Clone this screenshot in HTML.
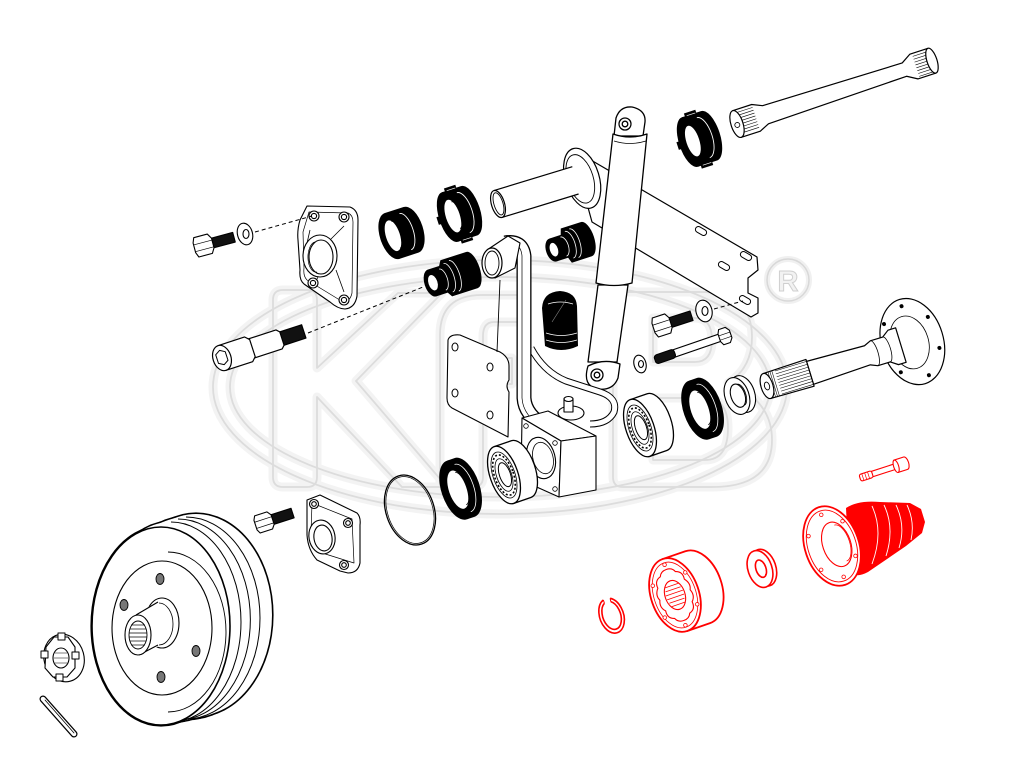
<!DOCTYPE html>
<html><head><meta charset="utf-8">
<style>html,body{margin:0;padding:0;background:#fff}svg{display:block}</style>
</head>
<body>
<svg width="1024" height="768" viewBox="0 0 1024 768" xmlns="http://www.w3.org/2000/svg">
<defs>
 <g id="wm">
  <ellipse cx="500" cy="387" rx="287" ry="127"/>
  <ellipse cx="500" cy="387" rx="270" ry="110"/>
  <path d="M273,300 Q273,290 283,290 L307,290 Q317,290 317,300 L317,368 L398,293 L442,293 L356,381 L447,487 L402,487 L317,397 L317,477 Q317,487 307,487 L283,487 Q273,487 273,477 Z"/>
  <path d="M440,487 L440,335 Q440,295 482,295 L522,295 L522,322 L494,322 Q483,322 483,336 L483,358 L512,358 L512,384 L483,384 L483,477 Q483,487 473,487 Z"/>
  <path d="M613,302 Q613,292 623,292 L700,292 Q752,292 752,337 Q752,368 728,383 Q772,400 772,440 Q772,487 712,487 L623,487 Q613,487 613,477 Z"/>
  <path d="M653,318 L695,318 Q712,318 712,340 Q712,362 695,362 L653,362 Z"/>
  <path d="M653,398 L705,398 Q728,398 728,428 Q728,460 705,460 L653,460 Z"/>
 </g>
 <g id="drum">
  <ellipse cx="196" cy="615" rx="76" ry="101"/>
  <ellipse cx="191" cy="617" rx="75" ry="101"/>
  <ellipse cx="186" cy="618" rx="74" ry="101"/>
  <ellipse cx="181" cy="619" rx="73" ry="100"/>
  <ellipse cx="176" cy="621" rx="72" ry="100"/>
  <ellipse cx="171" cy="622" rx="71" ry="100"/>
  <ellipse cx="166" cy="624" rx="70" ry="99"/>
  <ellipse cx="161" cy="626" rx="69" ry="99"/>
 </g>
</defs>
<rect width="1024" height="768" fill="#fff"/>

<!-- watermark -->
<g fill="none" stroke-linejoin="round">
 <use href="#wm" stroke="#f3f3f3" stroke-width="9"/>
 <use href="#wm" stroke="#dcdcdc" stroke-width="1.8"/>
</g>
<circle cx="788" cy="280" r="21" fill="none" stroke="#f0f0f0" stroke-width="6"/>
<circle cx="788" cy="280" r="21" fill="none" stroke="#d8d8d8" stroke-width="1.5"/>
<text x="788" y="291" font-family="Liberation Sans, sans-serif" font-size="29" font-weight="bold" text-anchor="middle" fill="#f2f2f2" stroke="#cfcfcf" stroke-width="1">R</text>

<!-- ===== spring plate / bracket ===== -->
<g stroke="#000" stroke-width="1.2" fill="#fff" stroke-linejoin="round">
 <path d="M572,149 L757,257 L758,270 L748,278 L748,293 L758,298 L758,313 L751,317 L592,222 Z"/>
 <g fill="#fff" stroke-width="1">
  <rect x="-6" y="-3" width="12" height="6" rx="3" transform="translate(701,231) rotate(30)"/>
  <rect x="-6" y="-3" width="12" height="6" rx="3" transform="translate(746,256) rotate(30)"/>
  <rect x="-6" y="-3" width="12" height="6" rx="3" transform="translate(724,266) rotate(30)"/>
  <rect x="-6" y="-3" width="12" height="6" rx="3" transform="translate(745,300) rotate(30)"/>
 </g>
</g>

<!-- pivot tube + flange -->
<g transform="translate(498,204) rotate(-17)" stroke="#000" stroke-width="1.2" fill="#fff">
 <ellipse cx="88" cy="0" rx="17" ry="31"/>
 <ellipse cx="86" cy="0" rx="13" ry="25" fill="none" stroke-width="0.9"/>
 <rect x="0" y="-14" width="82" height="28" stroke="none"/>
 <line x1="0" y1="-14" x2="82" y2="-14"/>
 <line x1="0" y1="14" x2="80" y2="14"/>
 <ellipse cx="0" cy="0" rx="6.5" ry="14"/>
 <ellipse cx="0.5" cy="0" rx="4.5" ry="11.5" fill="none" stroke-width="0.9"/>
</g>

<!-- torsion bar -->
<g transform="translate(737,124) rotate(-18)" stroke="#000" stroke-width="1.2" fill="#fff" stroke-linejoin="round">
 <path d="M0,-14 L20,-14 L30,-9.5 L176,-7 L186,-13 L205,-13 L205,13 L186,13 L176,7 L30,9.5 L20,14 L0,14 Z"/>
 <g stroke-width="0.6">
  <line x1="3" y1="-11" x2="20" y2="-11"/><line x1="4" y1="-8" x2="20" y2="-8"/><line x1="5" y1="-5" x2="20" y2="-5"/><line x1="5" y1="-2" x2="20" y2="-2"/><line x1="5" y1="1" x2="20" y2="1"/><line x1="5" y1="4" x2="20" y2="4"/><line x1="4" y1="7" x2="20" y2="7"/><line x1="3" y1="10" x2="20" y2="10"/>
  <line x1="188" y1="-10" x2="204" y2="-10"/><line x1="188" y1="-7" x2="204" y2="-7"/><line x1="188" y1="-4" x2="204" y2="-4"/><line x1="188" y1="-1" x2="204" y2="-1"/><line x1="188" y1="2" x2="204" y2="2"/><line x1="188" y1="5" x2="204" y2="5"/><line x1="188" y1="8" x2="204" y2="8"/><line x1="188" y1="11" x2="204" y2="11"/>
 </g>
 <ellipse cx="0" cy="0" rx="6" ry="14"/>
 <circle cx="0" cy="1" r="2.5" fill="none" stroke-width="0.8"/>
 <ellipse cx="205" cy="0" rx="5" ry="13"/>
</g>

<!-- top-right black notched ring -->
<g transform="translate(690,142) rotate(-18)">
 <path d="M0,-26 L20,-26 A11,26 0 0 1 20,26 L0,26 Z" fill="#000"/>
 <ellipse rx="11" ry="26" fill="#000"/>
 <rect x="3" y="-29" width="12" height="4" fill="#000"/>
 <rect x="3" y="25" width="12" height="4" fill="#000"/>
 <rect x="-13" y="-4" width="4" height="8" fill="#000"/>
 <ellipse cx="3" cy="0" rx="6.5" ry="16" fill="#fff"/>
 <path d="M14,-21 A9,21 0 0 1 14,21" stroke="#fff" stroke-width="0.9" fill="none"/>
 <path d="M5,-26 L14,-26" stroke="#fff" stroke-width="0.7"/>
 <path d="M5,26 L14,26" stroke="#fff" stroke-width="0.7"/>
</g>

<!-- ===== shock absorber ===== -->
<g stroke="#000" stroke-width="1.3" fill="#fff" stroke-linejoin="round">
 <path d="M614,136 L616,118 Q620,106 632,107 Q646,110 645,122 L643,136 Z"/>
 <circle cx="625" cy="124" r="6"/>
 <circle cx="625" cy="124" r="2.8"/>
 <path d="M588,362 L598,285 L628,285 L617,362 Z"/>
 <path d="M596,283 L613,134 Q630,140 647,134 L632,283 Q614,288 596,283 Z"/>
 <path d="M614,141 Q630,146 646,141" fill="none" stroke-width="0.8"/>
 <path d="M588,366 Q582,386 598,389 Q613,391 618,378 L620,364 Q604,358 588,366 Z"/>
 <circle cx="597" cy="375" r="6"/>
 <circle cx="597" cy="375" r="2.8"/>
</g>

<!-- ===== trailing arm assembly ===== -->
<g fill="none" stroke-linejoin="round" stroke-linecap="butt">
 <path d="M448,340 Q450,334 460,335 L500,352 Q509,357 509,366 L509,380 Q505,386 509,392 L508,437 L452,408 Q447,405 447,398 Z" fill="#fff" stroke="#000" stroke-width="1.1"/>
 <g fill="#fff" stroke="#000" stroke-width="1">
  <ellipse cx="455" cy="347" rx="3" ry="4"/><ellipse cx="490" cy="367" rx="3" ry="4"/>
  <ellipse cx="455" cy="393" rx="3" ry="4"/><ellipse cx="490" cy="415" rx="3" ry="4"/>
 </g>
 <path d="M531,348 Q544,372 566,381 L600,392 Q618,398 614,412 Q608,424 590,424" stroke="#000" stroke-width="7"/>
 <path d="M531,348 Q544,372 566,381 L600,392 Q618,398 614,412 Q608,424 590,424" stroke="#fff" stroke-width="5"/>
 <path d="M505,243 Q522,240 524,256 L524,398 Q525,415 545,426 L590,447" stroke="#000" stroke-width="15"/>
 <path d="M505,243 Q522,240 524,256 L524,398 Q525,415 545,426 L590,447" stroke="#fff" stroke-width="12.4"/>
 <path d="M507,243 Q521,242 522,256 L522,398 Q523,416 544,428 L588,448" stroke="#000" stroke-width="0.7"/>
 <path d="M500,280 L497,352" stroke="#000" stroke-width="0.9"/>
 <path d="M487,250 L508,236 L520,243 L515,268 L495,278 Z" fill="#fff" stroke="#000" stroke-width="1.1"/>
 <ellipse cx="492" cy="263" rx="10" ry="15" fill="#fff" stroke="#000" stroke-width="1.2"/>
 <ellipse cx="492" cy="263" rx="7" ry="12" stroke="#000" stroke-width="0.9"/>
</g>

<!-- housing block -->
<g stroke="#000" stroke-width="1.1" fill="#fff" stroke-linejoin="round">
 <ellipse cx="571" cy="413" rx="13" ry="7"/>
 <rect x="564" y="399" width="9" height="13"/>
 <ellipse cx="568.5" cy="399" rx="4.5" ry="2.5"/>
 <path d="M522,418 L548,411 L596,436 L561,441 Z"/>
 <path d="M522,418 L561,441 L559,497 L521,480 Z"/>
 <path d="M561,441 L596,436 L596,490 L559,497 Z"/>
 <ellipse cx="541" cy="458" rx="14" ry="21" transform="rotate(-15 541 458)"/>
 <ellipse cx="543" cy="458" rx="10" ry="16" transform="rotate(-15 543 458)" fill="none" stroke-width="0.8"/>
 <g stroke-width="0.8"><circle cx="526" cy="426" r="2.3"/><circle cx="555" cy="443" r="2.3"/><circle cx="525" cy="474" r="2.3"/><circle cx="555" cy="489" r="2.3"/></g>
</g>

<!-- bump stop -->
<g>
 <path d="M545,346 L542,308 Q543,292 560,291 Q576,292 577,306 L578,346 Q561,354 545,346 Z" fill="#000"/>
 <path d="M548,304 Q560,300 573,304" stroke="#fff" stroke-width="0.8" fill="none"/>
 <path d="M546,333 Q561,338 577,333" stroke="#fff" stroke-width="0.8" fill="none"/>
 <path d="M546,340 Q561,345 577,340" stroke="#fff" stroke-width="0.8" fill="none"/>
 <path d="M552,322 L566,300" stroke="#888" stroke-width="0.6"/>
</g>

<!-- black ribbed bushing (right of arm) -->
<g transform="translate(553,250) rotate(-18)">
 <path d="M0,-12 L12,-12 L14,-18 L35,-18 A8,18 0 0 1 35,18 L14,18 L12,12 L0,12 Z" fill="#000"/>
 <ellipse rx="7" ry="12" fill="#000"/>
 <ellipse cx="1" rx="4" ry="7" fill="#fff"/>
 <g stroke="#fff" stroke-width="0.8" fill="none">
  <path d="M11,-10 A5,10 0 0 1 11,10"/><path d="M17,-14 A6,14 0 0 1 17,14"/><path d="M22,-15 A6,15 0 0 1 22,15"/>
 </g>
</g>
<!-- black ribbed bushing (lower) -->
<g transform="translate(432,283) rotate(-18)">
 <path d="M0,-14 L12,-14 L15,-19 L42,-19 A8,19 0 0 1 42,19 L15,19 L12,14 L0,14 Z" fill="#000"/>
 <ellipse rx="7.5" ry="14" fill="#000"/>
 <ellipse cx="1" rx="4.5" ry="8" fill="#fff"/>
 <g stroke="#fff" stroke-width="0.8" fill="none">
  <path d="M11,-11 A5,11 0 0 1 11,11"/><path d="M17,-15 A6,15 0 0 1 17,15"/><path d="M23,-16 A6,16 0 0 1 23,16"/>
 </g>
</g>
<!-- black ring 1 -->
<g transform="translate(392,236) rotate(-18)">
 <path d="M0,-24 L20,-24 A12,24 0 0 1 20,24 L0,24 Z" fill="#000"/>
 <ellipse rx="12" ry="24" fill="#000"/>
 <ellipse cx="1" rx="7" ry="16" fill="#fff"/>
 <path d="M4,-14 A6,14 0 0 1 4,14" stroke="#000" stroke-width="0.8" fill="none"/>
 <path d="M14,-19 A8,19 0 0 1 14,19" stroke="#fff" stroke-width="0.9" fill="none"/>
</g>
<!-- black notched ring -->
<g transform="translate(450,217) rotate(-18)">
 <path d="M0,-26 L20,-26 A11,26 0 0 1 20,26 L0,26 Z" fill="#000"/>
 <ellipse rx="11" ry="26" fill="#000"/>
 <rect x="3" y="-29" width="12" height="4" fill="#000"/>
 <rect x="3" y="25" width="12" height="4" fill="#000"/>
 <rect x="-13" y="-4" width="4" height="8" fill="#000"/>
 <ellipse cx="3" cy="0" rx="7" ry="17" fill="#fff"/>
 <path d="M6,-14 A5,14 0 0 1 6,14" stroke="#000" stroke-width="0.8" fill="none"/>
 <path d="M14,-21 A9,21 0 0 1 14,21" stroke="#fff" stroke-width="0.9" fill="none"/>
 <path d="M5,-26 L14,-26" stroke="#fff" stroke-width="0.7"/>
 <path d="M5,26 L14,26" stroke="#fff" stroke-width="0.7"/>
</g>

<!-- upper left flange -->
<g stroke="#000" stroke-width="1.1" fill="#fff" stroke-linejoin="round">
 <path d="M307,206 L350,207 Q358,210 358,220 L357,296 Q355,308 345,309 Q338,309 330,302 L304,284 Q299,280 300,270 L298,240 Q297,230 300,220 Z"/>
 <path d="M309,212 L348,213 Q353,215 353,222 L352,293 Q350,302 343,302 L307,280 Q303,276 304,268 L303,232 Z" fill="none" stroke-width="0.7"/>
 <path d="M330,240 L344,226 M336,270 L344,292 M305,252 L310,230 M318,277 L314,285" stroke-width="0.8" fill="none"/>
 <ellipse cx="320" cy="256" rx="17" ry="21"/>
 <ellipse cx="321" cy="257" rx="12" ry="17"/>
 <path d="M315,242 A8,15 0 0 0 317,272" fill="none" stroke-width="0.7"/>
 <circle cx="314" cy="216" r="5"/><circle cx="314" cy="216" r="2.6"/>
 <circle cx="344" cy="217" r="5"/><circle cx="344" cy="217" r="2.6"/>
 <circle cx="313" cy="283" r="5"/><circle cx="313" cy="283" r="2.6"/>
 <circle cx="344" cy="300" r="5"/><circle cx="344" cy="300" r="2.6"/>
</g>

<!-- upper left bolt + washer -->
<g transform="translate(205,245) rotate(-15)" stroke="#000" stroke-width="1.1" stroke-linejoin="round">
 <rect x="8" y="-5" width="22" height="10" fill="#111"/>
 <path d="M-9,-10 L5,-10 L8,-5 L8,5 L5,10 L-9,10 L-11,5 L-11,-5 Z" fill="#fff"/>
 <path d="M-11,-3 L8,-3 M-11,4 L8,4" stroke-width="0.7" fill="none"/>
</g>
<g stroke="#000" stroke-width="1.1" fill="#fff">
 <ellipse cx="245" cy="234" rx="7.5" ry="11" transform="rotate(-15 245 234)"/>
 <ellipse cx="246" cy="234" rx="3" ry="4.5"/>
</g>
<line x1="255" y1="232" x2="312" y2="216" stroke="#000" stroke-width="1" stroke-dasharray="4,3"/>

<!-- long socket bolt -->
<g transform="translate(222,358) rotate(-18)" stroke="#000" stroke-width="1.2" fill="#fff" stroke-linejoin="round">
 <rect x="62" y="-7" width="24" height="14" fill="#111"/>
 <path d="M30,-10 L60,-10 L63,-7 L63,7 L60,10 L30,10 Z"/>
 <path d="M0,-13 L28,-13 L32,-9 L32,9 L28,13 L0,13 Z"/>
 <ellipse rx="9" ry="13"/>
 <path d="M-5,-5 L0,-8 L5,-5 L5,4 L0,7 L-5,4 Z" stroke-width="1"/>
</g>
<line x1="308" y1="333" x2="423" y2="287" stroke="#000" stroke-width="1" stroke-dasharray="4,3"/>

<!-- small bolt near plate -->
<g transform="translate(663,325) rotate(-18)" stroke="#000" stroke-width="1.1" stroke-linejoin="round">
 <rect x="7" y="-5" width="23" height="10" fill="#111"/>
 <path d="M-8,-10 L5,-10 L8,-5 L8,5 L5,10 L-8,10 L-10,5 L-10,-5 Z" fill="#fff"/>
 <path d="M-10,-3 L8,-3 M-10,4 L8,4" stroke-width="0.7" fill="none"/>
</g>
<g stroke="#000" stroke-width="1.1" fill="#fff">
 <ellipse cx="704" cy="311" rx="8" ry="11" transform="rotate(-15 704 311)"/>
 <ellipse cx="705" cy="311" rx="3" ry="4.5"/>
</g>
<line x1="714" y1="309" x2="743" y2="301" stroke="#000" stroke-width="1" stroke-dasharray="4,3"/>

<!-- long thin bolt -->
<g transform="translate(655,360) rotate(-19)" stroke="#000" stroke-width="1.1" stroke-linejoin="round">
 <path d="M20,-3.8 L70,-3.8 L70,3.8 L20,3.8 Z" fill="#fff"/>
 <rect x="0" y="-4.5" width="21" height="9" rx="3" fill="#111"/>
 <path d="M70,-8 L77,-8 L80,-4 L80,4 L77,8 L70,8 L68,4 L68,-4 Z" fill="#fff"/>
 <path d="M68,-2 L80,-2 M68,2.5 L80,2.5" stroke-width="0.6"/>
</g>
<g stroke="#000" stroke-width="1.1" fill="#fff">
 <ellipse cx="640" cy="364" rx="6" ry="9" transform="rotate(-15 640 364)"/>
 <ellipse cx="641" cy="364" rx="2.5" ry="3.5"/>
</g>

<!-- axle shaft -->
<g transform="translate(767,386) rotate(-17)" stroke="#000" stroke-width="1.2" fill="#fff" stroke-linejoin="round">
 <ellipse cx="152" cy="0" rx="31" ry="44"/>
 <ellipse cx="149" cy="0" rx="19" ry="27" fill="none" stroke-width="0.8"/>
 <g fill="#000" stroke="none">
  <circle cx="152" cy="-37" r="2"/><circle cx="174" cy="-19" r="2"/><circle cx="176" cy="14" r="2"/>
  <circle cx="158" cy="37" r="2"/><circle cx="132" cy="26" r="2"/><circle cx="130" cy="-25" r="2"/>
 </g>
 <path d="M45,-12 L105,-10 L112,-13 L125,-13 L132,-18 L140,-18 L140,18 L132,18 L125,13 L112,13 L105,10 L45,12 Z"/>
 <path d="M112,-13 A4,13 0 0 1 112,13 M125,-13 A4,13 0 0 1 125,13" fill="none" stroke-width="0.8"/>
 <path d="M0,-13 L45,-14 L45,14 L0,13 Z"/>
 <g stroke-width="0.55">
  <line x1="12" y1="-12" x2="45" y2="-12"/><line x1="12" y1="-9" x2="45" y2="-9"/><line x1="12" y1="-6" x2="45" y2="-6"/><line x1="12" y1="-3" x2="45" y2="-3"/><line x1="12" y1="0" x2="45" y2="0"/><line x1="12" y1="3" x2="45" y2="3"/><line x1="12" y1="6" x2="45" y2="6"/><line x1="12" y1="9" x2="45" y2="9"/><line x1="12" y1="12" x2="45" y2="12"/>
  <path d="M3,-13 L3,13 M5,-13 L5,13 M7,-13 L7,13 M9,-13 L9,13"/>
 </g>
 <ellipse rx="6" ry="13"/>
 <ellipse cx="0" cy="0" rx="2.5" ry="4" stroke-width="0.9"/>
</g>

<!-- spacer ring -->
<g transform="translate(737,396) rotate(-19)" stroke="#000" stroke-width="1.1" fill="#fff">
 <ellipse cx="6" rx="12" ry="19"/>
 <ellipse rx="12" ry="19"/>
 <ellipse cx="1" rx="7" ry="12"/>
 <path d="M4,-11 A5,11 0 0 1 4,11" fill="none" stroke-width="0.8"/>
</g>

<!-- right black seal -->
<g transform="translate(699,410) rotate(-19)">
 <path d="M0,-31 L8,-31 A15,31 0 0 1 8,31 L0,31 Z" fill="#000"/>
 <ellipse rx="15.5" ry="31" fill="#000"/>
 <ellipse cx="1" rx="9" ry="20" fill="#fff"/>
 <path d="M4,-17 A6,17 0 0 1 4,17" stroke="#000" stroke-width="0.8" fill="none"/>
 <path d="M6,-25 A11,25 0 0 1 6,25" stroke="#fff" stroke-width="0.8" fill="none"/>
</g>

<!-- right bearing -->
<g transform="translate(640,428) rotate(-19)" stroke="#000" fill="#fff">
 <path d="M0,-30 L18,-30 A14,30 0 0 1 18,30 L0,30 Z" stroke-width="1.3"/>
 <ellipse rx="14" ry="30" stroke-width="1.3"/>
 <ellipse rx="11" ry="24" fill="none" stroke-width="0.8"/>
 <ellipse rx="9.5" ry="21" fill="none" stroke-width="1.6" stroke-dasharray="2,2"/>
 <ellipse rx="7.5" ry="17" fill="none" stroke-width="0.8"/>
 <ellipse cx="1" rx="5.5" ry="12.5" stroke-width="1"/>
</g>

<!-- left bearing -->
<g transform="translate(504,475) rotate(-19)" stroke="#000" fill="#fff">
 <path d="M0,-30 L18,-30 A14,30 0 0 1 18,30 L0,30 Z" stroke-width="1.3"/>
 <ellipse rx="14" ry="30" stroke-width="1.3"/>
 <ellipse rx="11" ry="24" fill="none" stroke-width="0.8"/>
 <ellipse rx="9.5" ry="21" fill="none" stroke-width="1.6" stroke-dasharray="2,2"/>
 <ellipse rx="7.5" ry="17" fill="none" stroke-width="0.8"/>
 <ellipse cx="1" rx="5.5" ry="12.5" stroke-width="1"/>
</g>

<!-- left black seal -->
<g transform="translate(457,490) rotate(-19)">
 <path d="M0,-31 L8,-31 A15,31 0 0 1 8,31 L0,31 Z" fill="#000"/>
 <ellipse rx="15.5" ry="31" fill="#000"/>
 <ellipse cx="1" rx="9" ry="20" fill="#fff"/>
 <path d="M4,-17 A6,17 0 0 1 4,17" stroke="#000" stroke-width="0.8" fill="none"/>
 <path d="M6,-25 A11,25 0 0 1 6,25" stroke="#fff" stroke-width="0.8" fill="none"/>
</g>

<!-- O-ring -->
<ellipse cx="410" cy="510" rx="24" ry="36" transform="rotate(-19 410 510)" fill="none" stroke="#000" stroke-width="1.3"/>
<ellipse cx="410" cy="510" rx="22.5" ry="34.5" transform="rotate(-19 410 510)" fill="none" stroke="#000" stroke-width="0.7"/>

<!-- lower left bolt -->
<g transform="translate(265,522) rotate(-18)" stroke="#000" stroke-width="1.1" stroke-linejoin="round">
 <rect x="7" y="-5" width="22" height="10" fill="#111"/>
 <path d="M-8,-9 L5,-9 L8,-5 L8,5 L5,9 L-8,9 L-10,5 L-10,-5 Z" fill="#fff"/>
 <path d="M-10,-3 L8,-3 M-10,3.5 L8,3.5" stroke-width="0.7" fill="none"/>
</g>

<!-- lower flange -->
<g stroke="#000" stroke-width="1.1" fill="#fff" stroke-linejoin="round">
 <path d="M307,500 L320,495 L357,513 Q361,517 360,525 L360,563 Q358,573 348,573 L340,571 L317,560 Q308,550 307,535 Z"/>
 <path d="M312,503 L352,519 L354,563 L319,552 Q312,545 311,533 Z" fill="none" stroke-width="0.7"/>
 <ellipse cx="322" cy="537" rx="13" ry="17" transform="rotate(-10 322 537)"/>
 <ellipse cx="323" cy="538" rx="9" ry="13" transform="rotate(-10 323 538)"/>
 <circle cx="314" cy="504" r="4.5"/><circle cx="314" cy="504" r="2.3"/>
 <circle cx="348" cy="523" r="4.5"/><circle cx="348" cy="523" r="2.3"/>
 <circle cx="344" cy="565" r="4.5"/><circle cx="344" cy="565" r="2.3"/>
</g>

<!-- ===== brake drum ===== -->
<use href="#drum" fill="#000" stroke="#000" stroke-width="3.2"/>
<use href="#drum" fill="#fff" stroke="none"/>
<g stroke="#000" stroke-width="1" fill="none">
 <path d="M186,517 A74,101 0 0 1 186,719"/>
 <path d="M178,519 A72,100 0 0 1 178,720"/>
 <path d="M171,522 A70,100 0 0 1 171,722"/>
</g>
<g stroke="#000" fill="#fff">
 <ellipse cx="161" cy="626" rx="69" ry="99" stroke-width="1.6"/>
 <path d="M168,552 A58,80 0 0 1 168,712" fill="none" stroke-width="0.9"/>
 <ellipse cx="162" cy="628" rx="50" ry="67" stroke-width="1.1"/>
 <g fill="#777" stroke-width="0.9">
  <ellipse cx="160" cy="579" rx="4" ry="5.5"/><ellipse cx="124" cy="605" rx="4" ry="5.5"/>
  <ellipse cx="196" cy="651" rx="4" ry="5.5"/><ellipse cx="161" cy="677" rx="4" ry="5.5"/>
 </g>
 <ellipse cx="162" cy="623" rx="17" ry="25" stroke-width="1.1"/>
 <ellipse cx="159" cy="624" rx="14" ry="21" fill="none" stroke-width="0.8"/>
 <path d="M136,614 L159,601 L159,646 L138,656 Z" stroke="none"/>
 <line x1="136" y1="615" x2="158" y2="602" stroke-width="1.1"/>
 <line x1="139" y1="655" x2="158" y2="645" stroke-width="1.1"/>
 <ellipse cx="138" cy="635" rx="13" ry="20" stroke-width="1.1"/>
 <ellipse cx="138" cy="635" rx="9" ry="14" stroke-width="0.9"/>
 <g stroke-width="0.7">
  <line x1="131" y1="625" x2="145" y2="625"/><line x1="130" y1="629" x2="146" y2="629"/><line x1="129" y1="633" x2="147" y2="633"/><line x1="129" y1="637" x2="147" y2="637"/><line x1="130" y1="641" x2="146" y2="641"/><line x1="131" y1="645" x2="145" y2="645"/>
 </g>
</g>

<!-- castle nut -->
<g stroke="#000" stroke-width="1.1" fill="#fff" stroke-linejoin="round">
 <ellipse cx="64" cy="658" rx="20" ry="24" transform="rotate(-15 64 658)"/>
 <path d="M46,647 L54,637 L68,637 L75,647 L75,668 L67,677 L53,677 L45,668 Z"/>
 <g fill="#fff" stroke-width="1">
  <rect x="41" y="651" width="7" height="7"/><rect x="58" y="633" width="7" height="7"/><rect x="72" y="652" width="7" height="7"/><rect x="56" y="674" width="7" height="7"/>
 </g>
 <ellipse cx="61" cy="658" rx="8" ry="10"/>
 <path d="M55,653 L67,653 M54,658 L68,658 M55,663 L67,663" stroke-width="0.6"/>
</g>

<!-- cotter pin -->
<g fill="none" stroke-linecap="round">
 <path d="M43,699 L74,734" stroke="#000" stroke-width="7"/>
 <path d="M43,699 L74,734" stroke="#fff" stroke-width="4.6"/>
 <path d="M45,700 L74,733" stroke="#000" stroke-width="0.8"/>
</g>

<!-- ===== red parts ===== -->
<g transform="translate(612,616) rotate(-19)" fill="none" stroke="#f00" stroke-width="1.6">
 <path d="M-3,-18 A12,18 0 1 0 4,-17.3"/>
 <path d="M-3,-14.5 A9,14.5 0 1 0 3.5,-14"/>
 <path d="M-3,-18 L-3,-14.5 M4,-17.3 L3.5,-14" stroke-width="1"/>
</g>

<g transform="translate(675,595) rotate(-19)" stroke="#f00" fill="#fff">
 <path d="M0,-38 L24,-38 A24,38 0 0 1 24,38 L0,38 Z" stroke-width="1.8"/>
 <ellipse rx="24" ry="38" stroke-width="1.8"/>
 <ellipse rx="21" ry="34" fill="none" stroke-width="0.8"/>
 <path d="M0,-27 Q6,-27 8,-22 Q15,-20 14,-12 Q19,-6 16,0 Q19,7 14,12 Q15,20 8,22 Q6,27 0,27 Q-6,27 -8,22 Q-15,20 -14,12 Q-19,7 -16,0 Q-19,-6 -14,-12 Q-15,-20 -8,-22 Q-6,-27 0,-27 Z" fill="none" stroke-width="1.1"/>
 <ellipse rx="10" ry="15" fill="none" stroke-width="1.1"/>
 <g stroke-width="0.8">
  <line x1="-7" y1="-10" x2="7" y2="-10"/><line x1="-8" y1="-6" x2="8" y2="-6"/><line x1="-9" y1="-2" x2="9" y2="-2"/><line x1="-9" y1="2" x2="9" y2="2"/><line x1="-8" y1="6" x2="8" y2="6"/><line x1="-7" y1="10" x2="7" y2="10"/>
 </g>
 <g fill="#fff" stroke-width="0.8">
  <circle cx="0" cy="-32" r="1.8"/><circle cx="17" cy="-18" r="1.8"/><circle cx="18" cy="16" r="1.8"/>
  <circle cx="0" cy="32" r="1.8"/><circle cx="-17" cy="18" r="1.8"/><circle cx="-18" cy="-16" r="1.8"/>
 </g>
</g>

<g transform="translate(760,569) rotate(-19)" stroke="#f00" fill="#fff" stroke-width="1.6">
 <ellipse cx="4" rx="12" ry="19"/>
 <ellipse rx="12" ry="19"/>
 <ellipse cx="1" rx="5" ry="9"/>
 <path d="M3,-7 A3,7 0 0 1 3,7" fill="none" stroke-width="0.9"/>
</g>

<g transform="translate(860,478) rotate(-18)" stroke="#f00" fill="#fff" stroke-width="1.1">
 <path d="M12,-2.8 L38,-2.8 L38,2.8 L12,2.8 Z"/>
 <rect x="0" y="-3.5" width="13" height="7" rx="2"/>
 <path d="M3,-3.5 L3,3.5 M6,-3.5 L6,3.5 M9,-3.5 L9,3.5" stroke-width="0.7"/>
 <path d="M38,-6.5 L48,-6.5 A3,6.5 0 0 1 48,6.5 L38,6.5 Z"/>
 <ellipse cx="38" rx="2.5" ry="6.5"/>
</g>

<path d="M846,508 Q858,500 880,502 L910,503 L921,509 L925,522 L922,533 L906,546 L868,572 Q853,580 849,568 Z" fill="#f00"/>
<g fill="none" stroke="#fff" stroke-width="0.9">
 <path d="M872,506 Q884,532 872,564"/>
 <path d="M884,505 Q895,528 886,556"/>
 <path d="M896,505 Q906,526 899,548"/>
 <path d="M907,505 Q915,522 911,540"/>
</g>
<g transform="translate(832,546) rotate(-19)" stroke="#f00" fill="#fff">
 <ellipse rx="27" ry="41" stroke-width="1.8"/>
 <ellipse rx="24" ry="37" fill="none" stroke-width="0.9"/>
 <ellipse cx="5" rx="14" ry="23" fill="none" stroke-width="1.1"/>
 <path d="M9,-19 A9,19 0 0 1 9,19" fill="none" stroke-width="0.8"/>
 <g fill="#fff" stroke-width="0.8">
  <circle cx="0" cy="-33" r="1.8"/><circle cx="18" cy="-20" r="1.8"/><circle cx="19" cy="17" r="1.8"/>
  <circle cx="1" cy="33" r="1.8"/><circle cx="-18" cy="19" r="1.8"/><circle cx="-19" cy="-17" r="1.8"/>
 </g>
</g>

</svg>
</body>
</html>
